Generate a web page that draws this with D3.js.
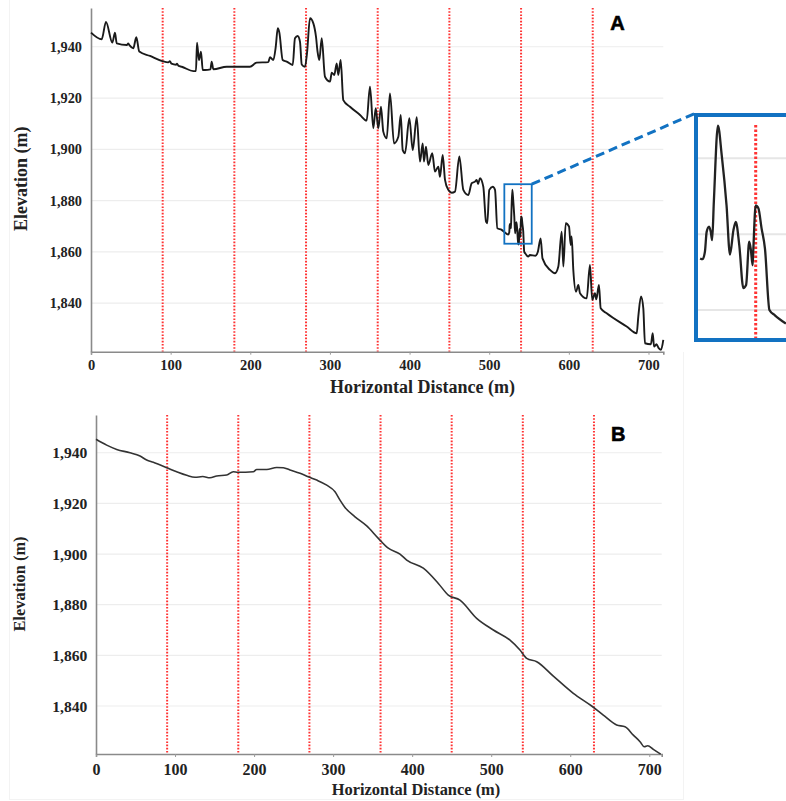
<!DOCTYPE html>
<html>
<head>
<meta charset="utf-8">
<script src="https://cdn.jsdelivr.net/npm/d3@7"></script>
<style>
  html, body { margin: 0; padding: 0; background: #ffffff; }
  svg { display: block; }
</style>
</head>
<body>
<script>
// ---------------- DATA ----------------
// Panel A: raw (noisy) elevation profile
const distA = [0, 13.4, 18.8, 26.8, 30.1, 32.3, 45, 46.8, 48.5, 53.1, 56.9, 60.6, 74.1, 89.5, 97, 99, 101, 107, 108, 110, 113.9,
  128.5, 131.8, 133.1, 135.6, 138.1, 140.3, 143.1, 150, 151.5, 153.6, 170.4, 199.6, 208, 222.6, 224.8, 228.9, 232, 234.5, 236.5,
  240.7, 245.7, 253.3, 256.1, 259.5, 262.4, 264.6, 268.7, 271.2, 275, 279.2, 282.5, 284.5, 286.7, 289.7, 293.8, 300.1, 302.3,
  305.5, 308.5, 310.5, 313.5, 316.8, 325.2, 337.8, 346.1, 350.3, 354.5, 357.5, 360.8, 364.1, 367, 371.3, 375.4, 380.5, 385.9,
  388.9, 391.4, 394.3, 399.7, 404, 409, 413.1, 416.5, 418.1, 420.6, 423.5, 428.5, 431.9, 436.1, 438.2, 441.6, 444.5, 448.6,
  452.9, 457, 462.5, 467.5, 473.8, 478, 482.2, 484.3, 486, 488.4, 492.6, 496, 497.6, 500.1, 504.4, 507.3, 510.2, 515.7, 518.6,
  523.8, 525.2, 525.7, 526.4, 526.9, 527.3, 527.8, 529.0, 530.1, 531.5, 532.5, 533.5, 534.2, 535.2, 536.4, 537.2, 538.1, 538.6,
  539.1, 539.3, 540.0, 540.8, 541.7, 542.7, 544.0, 545.6, 548.8, 551.2, 558, 561, 564.6, 566.9, 576.3, 582.6, 586.8, 591, 593.1,
  596.1, 600.2, 602.3, 603.5, 605.6, 609, 611.9, 614, 622.4, 626.5, 629.4, 632.8, 634.5, 637.8, 640, 647.5, 672.6, 685.2, 687.2,
  690.6, 693.5, 695.6, 703, 705.3, 707, 710, 712.8, 715.7, 718.6];
const elevA = [1945.5, 1942.9, 1949.7, 1941.6, 1945.5, 1941.3, 1940.7, 1941.3, 1940.5, 1939.4, 1943.7, 1938.1, 1936.4, 1934.4,
  1933.9, 1934.4, 1933.4, 1933.0, 1933.4, 1932.5, 1932.2,
  1930.5, 1930.5, 1941.6, 1934.8, 1938.1, 1930.9, 1930.9, 1931.2, 1934.2, 1931.2, 1932.2, 1932.2, 1933.8, 1934.0, 1935.9, 1934.8,
  1940, 1947.2, 1945.5,
  1934.8, 1934.2, 1932.9, 1943.3, 1944.2, 1942, 1933.1, 1932.2, 1937.4, 1951.1, 1949.1, 1943.9, 1938, 1934.8, 1943.3, 1928.3,
  1926.4, 1929.9,
  1929, 1933.5, 1929, 1934.8, 1919.2, 1916.6, 1913.4, 1911.2, 1924.4, 1908.2, 1916, 1908.2, 1916.6, 1906.9, 1904.3, 1921.8,
  1902.3, 1904.9,
  1913.4, 1899.7, 1898.5, 1912.1, 1899.7, 1912.5, 1895.2, 1902.3, 1895.2, 1901, 1893.9, 1898.5, 1891.3, 1893.2, 1889.3, 1897.8,
  1888.1, 1884.2,
  1883.1, 1883.5, 1897.2, 1884.2, 1882.2, 1886.8, 1887.4, 1888.1, 1886.5, 1888.7, 1885.4, 1871.8, 1871.2, 1884.2, 1885.4, 1884.2,
  1869.2, 1868.6, 1867.9,
  1866.8, 1867.7, 1870.3, 1871.0, 1870.3, 1869.2, 1874.3, 1884.3, 1880.4, 1873.8, 1867.3, 1870.5, 1871.6, 1868.6, 1862.9, 1863.3,
  1869.0, 1867.9,
  1865.9, 1867.9, 1873.8, 1873.4, 1870.8, 1868.1, 1860.0, 1859.3, 1858.2, 1858.8, 1858.5, 1860, 1865.3, 1857.5, 1853, 1851.7,
  1854.3, 1867.9, 1854.3,
  1871.2, 1869.9, 1862.7, 1866, 1853, 1844.5, 1847.1, 1843.9, 1841.9, 1854.9, 1841.3, 1843.9, 1841.5, 1847.1, 1838, 1836.1,
  1830.9, 1828.3, 1834.8,
  1842.6, 1838, 1824.4, 1824, 1828.3, 1823.1, 1824, 1822.5, 1821.8, 1825.7];

// Panel B: smoothed elevation profile
const distB = [0, 13.5, 26.2, 43, 55.7, 64.1, 72.5, 89.4, 102.1, 114.7, 125.3, 135, 144.2, 152.7, 165.4, 173.7, 179.3, 199,
  203.3, 216, 228.6, 237, 245.4, 258.1, 268.6, 279.2, 291.9, 302.4, 308.7, 315, 327.7, 342.5, 357.2, 369.8, 384.6, 393.1,
  414.1, 433.1, 445.7, 460.5, 481.6, 502.7, 523.8, 536.4, 544.9, 557.6, 578.6, 603.9, 627.1, 641.8, 658.7, 669.3, 679.8,
  688.3, 693.7, 698, 705.1, 714.4];
const elevB = [1945.3, 1943, 1941.3, 1940, 1938.7, 1937.1, 1936.2, 1934.1, 1932.5, 1931.1, 1930.3, 1930.6, 1930.1, 1930.8,
  1931.2, 1932.5, 1932.3, 1932.5, 1933.4, 1933.4, 1934.2, 1934.1, 1933.2, 1931.9, 1930.5, 1929.2, 1927.2, 1924.6, 1921.3,
  1918.4, 1914.7, 1911.1, 1906.2, 1902.3, 1900, 1897.6, 1894.4, 1888.4, 1883.8, 1881.8, 1874.6, 1870, 1866, 1862.1, 1858.8,
  1857.5, 1851.8, 1845, 1840, 1836.4, 1832.5, 1831.8, 1828.5, 1825.9, 1823.9, 1824.3, 1822.9, 1821];

// Inset (zoom of panel A around 540 m)
const insetDist = [523.8, 524.5, 525.2, 525.7, 526.4, 526.9, 527.3, 527.8, 529.0, 530.1, 531.5, 532.5, 533.5, 534.2, 535.2,
  536.4, 537.2, 538.1, 538.6, 539.1, 539.3, 540.0, 540.8, 541.7, 542.7, 544.0, 545.6, 548.8];
const insetElev = [1866.8, 1866.7, 1867.7, 1870.3, 1871.0, 1870.3, 1869.2, 1874.3, 1884.3, 1880.4, 1873.8, 1867.3, 1870.5,
  1871.6, 1868.6, 1862.9, 1863.3, 1869.0, 1867.9, 1865.9, 1867.9, 1873.8, 1873.4, 1870.8, 1868.1, 1860.0, 1859.3, 1858.2];
const insetGrid = [1860, 1870, 1880];
const insetMarker = [540];
const zoomWindow = { dist: [519, 553.4], elev: [1863.2, 1886.4] };

// Ticks and marker lines
const xTicks = [0, 100, 200, 300, 400, 500, 600, 700];
const yTicks = [1840, 1860, 1880, 1900, 1920, 1940];
const markerDist = [90, 180, 270, 360, 450, 540, 630];

const panelLetters = ["A", "B"];
const xTitle = "Horizontal Distance (m)";
const yTitle = "Elevation (m)";

// ---------------- LAYOUT ----------------
const W = 786, H = 801;
const SERIF = "'Liberation Serif','Times New Roman',Times,serif";
const SANS = "'Liberation Sans',Arial,Helvetica,sans-serif";
const BLUE = "#1272c2";
const RED = "#ff3333";

const svg = d3.select("body").append("svg").attr("width", W).attr("height", H);

// faint frame of original figure
const frame = svg.append("g").attr("stroke", "#f3f3f3").attr("stroke-width", 1).attr("fill", "none");
frame.append("line").attr("x1", 9.5).attr("x2", 9.5).attr("y1", 0).attr("y2", 800);
frame.append("line").attr("x1", 683.5).attr("x2", 683.5).attr("y1", 352).attr("y2", 800);
frame.append("line").attr("x1", 9.5).attr("x2", 683.5).attr("y1", 799.5).attr("y2", 799.5);

const panels = [
  { dist: distA, elev: elevA, letter: panelLetters[0],
    left: 91, right: 663.3, top: 8, bottom: 351.7, xMax: 718.6, yDom: [1821.1, 1955.1],
    yTickFont: 14.3, xTickFont: 14.5, yPad: 9, xPad: 5,
    titleFont: 18, xTitleX: 422.5, xTitleY: 392.7, yTitleX: 27, yTitleY: 178.8,
    letterX: 617.5, letterY: 30, lineColor: "#1a1a1a", lineWidth: 1.9 },
  { dist: distB, elev: elevB, letter: panelLetters[1],
    left: 96, right: 661.7, top: 415, bottom: 754, xMax: 715.7, yDom: [1821.05, 1954.9],
    yTickFont: 15.6, xTickFont: 16, yPad: 8.7, xPad: 6.6,
    titleFont: 16.4, xTitleX: 416, xTitleY: 795, yTitleX: 25, yTitleY: 584,
    letterX: 618.3, letterY: 440.7, lineColor: "#333", lineWidth: 1.6 }
];

const scalesA = {};

panels.forEach((p, i) => {
  const x = d3.scaleLinear().domain([0, p.xMax]).range([p.left, p.right]);
  const y = d3.scaleLinear().domain(p.yDom).range([p.bottom, p.top]);
  if (i === 0) { scalesA.x = x; scalesA.y = y; }
  const g = svg.append("g");

  // gridlines
  g.append("g").selectAll("line").data(yTicks).join("line")
    .attr("x1", p.left).attr("x2", p.right)
    .attr("y1", d => y(d)).attr("y2", d => y(d))
    .attr("stroke", "#ededed").attr("stroke-width", 1.2);

  // red dotted marker lines
  g.append("g").selectAll("line").data(markerDist).join("line")
    .attr("x1", d => x(d)).attr("x2", d => x(d))
    .attr("y1", p.top).attr("y2", p.bottom)
    .attr("stroke", RED).attr("stroke-width", 2).attr("stroke-dasharray", "1.6,1.6");

  // x axis
  const xa = g.append("g").attr("transform", `translate(0,${p.bottom})`)
    .call(d3.axisBottom(x).tickValues(xTicks).tickSize(3).tickPadding(p.xPad).tickFormat(d3.format("d")));
  xa.select(".domain").attr("stroke", "#8a8a8a").attr("stroke-width", 1.6);
  xa.selectAll(".tick line").attr("stroke", "#9a9a9a");
  xa.selectAll("text").attr("font-family", SERIF).attr("font-weight", "bold")
    .attr("font-size", p.xTickFont).attr("fill", "#222");

  // y axis
  const ya = g.append("g").attr("transform", `translate(${p.left},0)`)
    .call(d3.axisLeft(y).tickValues(yTicks).tickSize(0).tickPadding(p.yPad).tickFormat(d3.format(",")));
  ya.select(".domain").attr("stroke", "#8a8a8a").attr("stroke-width", 1.6);
  ya.selectAll("text").attr("font-family", SERIF).attr("font-weight", "bold")
    .attr("font-size", p.yTickFont).attr("fill", "#222");

  // profile line
  const pts = p.dist.map((d, k) => [d, p.elev[k]]);
  g.append("path").datum(pts)
    .attr("fill", "none").attr("stroke", p.lineColor).attr("stroke-width", p.lineWidth)
    .attr("stroke-linejoin", "round")
    .attr("d", d3.line().curve(d3.curveMonotoneX).x(d => x(d[0])).y(d => y(d[1])));

  // titles
  g.append("text").attr("x", p.xTitleX).attr("y", p.xTitleY).attr("text-anchor", "middle")
    .attr("font-family", SERIF).attr("font-weight", "bold").attr("font-size", p.titleFont).attr("fill", "#222")
    .text(xTitle);
  g.append("text").attr("transform", `translate(${p.yTitleX},${p.yTitleY}) rotate(-90)`).attr("text-anchor", "middle")
    .attr("font-family", SERIF).attr("font-weight", "bold").attr("font-size", p.titleFont).attr("fill", "#222")
    .text(yTitle);

  // panel letter
  g.append("text").attr("x", p.letterX).attr("y", p.letterY).attr("text-anchor", "middle")
    .attr("font-family", SANS).attr("font-weight", "900").attr("font-size", 20).attr("fill", "#000")
    .attr("stroke", "#000").attr("stroke-width", 0.6)
    .text(p.letter);
});

// ---------------- ZOOM WINDOW + INSET ----------------
const xA = scalesA.x, yA = scalesA.y;
const rx0 = xA(zoomWindow.dist[0]), rx1 = xA(zoomWindow.dist[1]);
const ry0 = yA(zoomWindow.elev[1]), ry1 = yA(zoomWindow.elev[0]);
svg.append("rect").attr("x", rx0).attr("y", ry0).attr("width", rx1 - rx0).attr("height", ry1 - ry0)
  .attr("fill", "none").attr("stroke", BLUE).attr("stroke-width", 1.8);

// inset box geometry
const box = { left: 698, right: 820, top: 117, bottom: 338 };
const xI = d3.scaleLinear().domain([540 - (755.7 - box.left) / 3.43, 540]).range([box.left, 755.7]);
const yI = d3.scaleLinear().domain([1860, 1880]).range([310, 158.3]);

svg.append("line").attr("x1", rx1).attr("y1", ry0).attr("x2", box.left - 2).attr("y2", box.top - 4)
  .attr("stroke", BLUE).attr("stroke-width", 3).attr("stroke-dasharray", "9,5");

svg.append("defs").append("clipPath").attr("id", "insetClip")
  .append("rect").attr("x", box.left).attr("y", box.top).attr("width", box.right - box.left).attr("height", box.bottom - box.top);

const ig = svg.append("g").attr("clip-path", "url(#insetClip)");
ig.append("rect").attr("x", box.left).attr("y", box.top).attr("width", box.right - box.left)
  .attr("height", box.bottom - box.top).attr("fill", "#fff");
ig.selectAll("line.grid").data(insetGrid).join("line").attr("class", "grid")
  .attr("x1", box.left).attr("x2", box.right).attr("y1", d => yI(d)).attr("y2", d => yI(d))
  .attr("stroke", "#e6e6e6").attr("stroke-width", 2);
ig.selectAll("line.mark").data(insetMarker).join("line").attr("class", "mark")
  .attr("x1", d => xI(d)).attr("x2", d => xI(d)).attr("y1", box.top + 8).attr("y2", box.bottom)
  .attr("stroke", RED).attr("stroke-width", 3).attr("stroke-dasharray", "2.5,2");
ig.append("path").datum(insetDist.map((d, k) => [d, insetElev[k]]))
  .attr("fill", "none").attr("stroke", "#222").attr("stroke-width", 2.3).attr("stroke-linejoin", "round")
  .attr("d", d3.line().curve(d3.curveMonotoneX).x(d => xI(d[0])).y(d => yI(d[1])));

svg.append("rect").attr("x", box.left - 2).attr("y", box.top - 2)
  .attr("width", box.right - box.left + 4).attr("height", box.bottom - box.top + 4)
  .attr("fill", "none").attr("stroke", BLUE).attr("stroke-width", 4);
</script>
</body>
</html>
